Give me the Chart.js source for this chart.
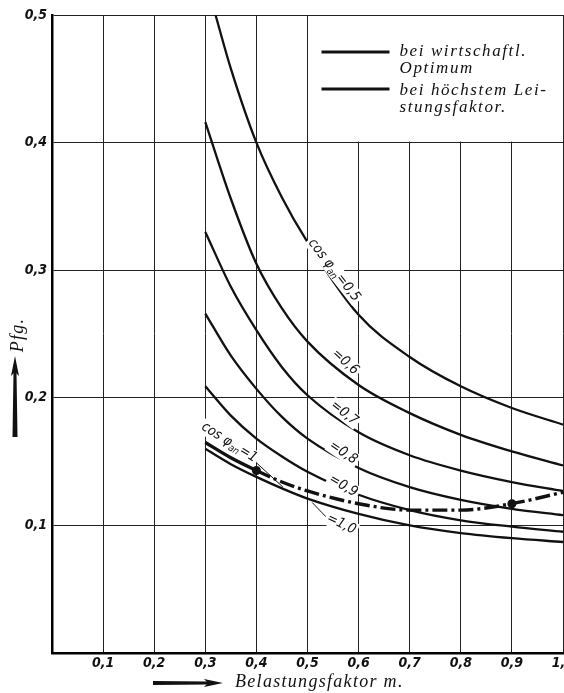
<!DOCTYPE html>
<html>
<head>
<meta charset="utf-8">
<script src="https://cdn.jsdelivr.net/npm/chart.js@4.4.1/dist/chart.umd.min.js"></script>
<style>
  html, body { margin: 0; padding: 0; background: #fff; }
</style>
</head>
<body>
<canvas id="chart" width="564" height="693"></canvas>
<script>
// Belastungsfaktor m (x-Werte)
const loadFactor = [0.3, 0.35, 0.4, 0.45, 0.5, 0.6, 0.7, 0.8, 0.9, 1.0];
const loadFactor05 = [0.32, 0.35, 0.4, 0.45, 0.5, 0.6, 0.7, 0.8, 0.9, 1.0];

// Kosten in Pfg. bei wirtschaftlichem Optimum, je cos phi an
const cos05 = [0.500, 0.458, 0.400, 0.357, 0.322, 0.265, 0.232, 0.209, 0.192, 0.179];
const cos06 = [0.416, 0.356, 0.305, 0.270, 0.244, 0.210, 0.188, 0.171, 0.158, 0.147];
const cos07 = [0.330, 0.287, 0.253, 0.224, 0.202, 0.173, 0.155, 0.143, 0.134, 0.127];
const cos08 = [0.266, 0.233, 0.207, 0.185, 0.168, 0.145, 0.130, 0.120, 0.113, 0.108];
const cos09 = [0.209, 0.186, 0.168, 0.154, 0.142, 0.124, 0.112, 0.104, 0.099, 0.095];
const cos10 = [0.160, 0.148, 0.138, 0.129, 0.121, 0.109, 0.100, 0.094, 0.090, 0.087];

// bei höchstem Leistungsfaktor (strichpunktiert)
const maxPf = [0.165, 0.153, 0.143, 0.134, 0.127, 0.117, 0.112, 0.112, 0.117, 0.126];
const maxPfMarks = [0.4, 0.9];

const xTicks = [0.1, 0.2, 0.3, 0.4, 0.5, 0.6, 0.7, 0.8, 0.9, 1.0];
const yTicks = [0.1, 0.2, 0.3, 0.4, 0.5];

const legendLabels = [['bei wirtschaftl.', 'Optimum'], ['bei höchstem Lei-', 'stungsfaktor.']];

const INK = '#111';
const SANS = '"DejaVu Sans Condensed", "DejaVu Sans", sans-serif';
const tickFont = { family: SANS, size: 14, style: 'italic', weight: 'bold' };
const comma = v => v.toFixed(1).replace('.', ',');

const toPoints = (xs, ys) => xs.map((x, i) => ({ x: x, y: ys[i] }));

function curve(xs, ys) {
    return {
        data: toPoints(xs, ys),
        borderColor: INK,
        borderWidth: 2.3,
        pointRadius: 0,
        fill: false,
        cubicInterpolationMode: 'monotone'
    };
}

// Text mit tiefgestelltem Index ("an") zeichnen
function richText(ctx, parts, size) {
    let w = 0;
    parts.forEach(p => {
        ctx.font = `italic ${p.sub ? size * 0.7 : size}px ${SANS}`;
        p.w = ctx.measureText(p.t).width;
        w += p.w;
    });
    let x = -w / 2;
    ctx.fillStyle = '#fff';
    ctx.fillRect(x - 2, -size * 0.55, w + 4, size * 1.1);
    ctx.fillStyle = INK;
    parts.forEach(p => {
        ctx.font = `italic ${p.sub ? size * 0.7 : size}px ${SANS}`;
        ctx.fillText(p.t, x, p.sub ? size * 0.3 : 0);
        x += p.w;
    });
}

const curveLabels = [
    { parts: [{ t: 'cos φ' }, { t: 'an', sub: true }, { t: '=0,5' }], m: 0.552, v: 0.300, a: 52 },
    { parts: [{ t: '=0,6' }], m: 0.574, v: 0.228, a: 42 },
    { parts: [{ t: '=0,7' }], m: 0.572, v: 0.188, a: 38 },
    { parts: [{ t: '=0,8' }], m: 0.570, v: 0.157, a: 34 },
    { parts: [{ t: '=0,9' }], m: 0.570, v: 0.131, a: 30 },
    { parts: [{ t: '=1,0' }], m: 0.566, v: 0.101, a: 26 },
    { parts: [{ t: 'cos φ' }, { t: 'an', sub: true }, { t: '=1' }], m: 0.347, v: 0.165, a: 32 }
];

const decorPlugin = {
    id: 'decor',
    beforeDatasetsDraw(chart) {
        const { ctx, scales: { x, y } } = chart;
        // Legendenfeld überdeckt das Netz
        const l = x.getPixelForValue(0.5), r = x.getPixelForValue(1.0);
        const t = y.getPixelForValue(0.5), b = y.getPixelForValue(0.4);
        ctx.save();
        ctx.fillStyle = '#fff';
        ctx.fillRect(l + 1, t + 1, r - l - 2, b - t - 2);
        ctx.restore();
    },
    afterDatasetsDraw(chart) {
        const { ctx, scales: { x, y } } = chart;
        const L = x.getPixelForValue(0.5), T = y.getPixelForValue(0.5);
        ctx.save();

        // Legende
        ctx.strokeStyle = INK;
        ctx.lineWidth = 3;
        [37, 74].forEach(dy => {
            ctx.beginPath();
            ctx.moveTo(L + 14, T + dy);
            ctx.lineTo(L + 82, T + dy);
            ctx.stroke();
        });
        ctx.fillStyle = INK;
        ctx.font = 'italic 17px "Liberation Serif", serif';
        ctx.letterSpacing = '1.6px';
        ctx.textBaseline = 'alphabetic';
        ctx.fillText(legendLabels[0][0], L + 92, T + 41);
        ctx.fillText(legendLabels[0][1], L + 92, T + 58);
        ctx.fillText(legendLabels[1][0], L + 92, T + 80);
        ctx.fillText(legendLabels[1][1], L + 92, T + 97);
        ctx.letterSpacing = '0px';

        // Hinweislinien
        ctx.lineWidth = 1;
        [[0.392, 0.152, 0.452, 0.130], [0.509, 0.118, 0.538, 0.106]].forEach(s => {
            ctx.beginPath();
            ctx.moveTo(x.getPixelForValue(s[0]), y.getPixelForValue(s[1]));
            ctx.lineTo(x.getPixelForValue(s[2]), y.getPixelForValue(s[3]));
            ctx.stroke();
        });

        // Kurvenbeschriftungen
        ctx.textBaseline = 'middle';
        curveLabels.forEach(c => {
            ctx.save();
            ctx.translate(x.getPixelForValue(c.m), y.getPixelForValue(c.v));
            ctx.rotate(c.a * Math.PI / 180);
            richText(ctx, c.parts, 14);
            ctx.restore();
        });

        // Achsentitel mit Pfeilen
        ctx.fillStyle = INK;
        ctx.textBaseline = 'alphabetic';
        ctx.font = 'italic 18px "Liberation Serif", serif';
        ctx.letterSpacing = '1.3px';
        ctx.textAlign = 'left';
        ctx.fillText('Belastungsfaktor m.', 235, 687);
        ctx.beginPath();
        ctx.moveTo(153, 681); ctx.lineTo(208, 681.5); ctx.lineTo(208, 684.5); ctx.lineTo(153, 685);
        ctx.closePath(); ctx.fill();
        ctx.beginPath();
        ctx.moveTo(204, 679); ctx.lineTo(223, 683); ctx.lineTo(204, 687); ctx.lineTo(208, 683);
        ctx.closePath(); ctx.fill();

        ctx.save();
        ctx.translate(23, 335);
        ctx.rotate(-Math.PI / 2);
        ctx.textAlign = 'center';
        ctx.fillText('Pfg.', 0, 0);
        ctx.restore();
        ctx.letterSpacing = '0px';
        ctx.beginPath();
        ctx.moveTo(12.5, 437); ctx.lineTo(13.5, 372); ctx.lineTo(16.5, 372); ctx.lineTo(17.5, 437);
        ctx.closePath(); ctx.fill();
        ctx.beginPath();
        ctx.moveTo(11, 376); ctx.lineTo(15, 356); ctx.lineTo(19, 376); ctx.lineTo(15, 372);
        ctx.closePath(); ctx.fill();

        ctx.restore();
    }
};

const dashDot = {
    data: toPoints(loadFactor, maxPf),
    borderColor: INK,
    borderWidth: 3.4,
    fill: false,
    cubicInterpolationMode: 'monotone',
    pointRadius: loadFactor.map(m => maxPfMarks.includes(m) ? 2.8 : 0),
    pointBackgroundColor: INK,
    pointBorderColor: INK,
    segment: {
        borderDash: ctx => ctx.p0.parsed.x < 0.39 ? [] : [15, 4, 3, 4]
    }
};

new Chart(document.getElementById('chart'), {
    type: 'line',
    data: {
        datasets: [
            curve(loadFactor05, cos05),
            curve(loadFactor, cos06),
            curve(loadFactor, cos07),
            curve(loadFactor, cos08),
            curve(loadFactor, cos09),
            curve(loadFactor, cos10),
            dashDot
        ]
    },
    options: {
        responsive: false,
        animation: false,
        devicePixelRatio: 1,
        layout: { padding: { top: 15, right: 1, left: 0, bottom: 0 } },
        plugins: { legend: { display: false }, tooltip: { enabled: false } },
        scales: {
            x: {
                type: 'linear',
                min: 0,
                max: 1,
                afterBuildTicks: s => { s.ticks = [{ value: 0 }].concat(xTicks.map(v => ({ value: v }))); },
                afterFit: s => { s.height = 40; s.paddingLeft = 0; s.paddingRight = 0; },
                ticks: {
                    callback: v => v === 0 ? '' : comma(v),
                    font: tickFont,
                    color: INK,
                    padding: 2,
                    maxRotation: 0,
                    autoSkip: false
                },
                grid: { color: '#222', lineWidth: 1, drawTicks: false },
                border: { color: '#000', width: 2.5 }
            },
            y: {
                min: 0,
                max: 0.5,
                afterBuildTicks: s => { s.ticks = [{ value: 0 }].concat(yTicks.map(v => ({ value: v }))); },
                afterFit: s => { s.width = 52; s.paddingTop = 0; s.paddingBottom = 0; },
                ticks: {
                    callback: v => v === 0 ? '' : comma(v),
                    font: tickFont,
                    color: INK,
                    padding: 5
                },
                grid: { color: '#222', lineWidth: 1, drawTicks: false },
                border: { color: '#000', width: 2.5 }
            }
        }
    },
    plugins: [decorPlugin]
});
</script>
</body>
</html>
